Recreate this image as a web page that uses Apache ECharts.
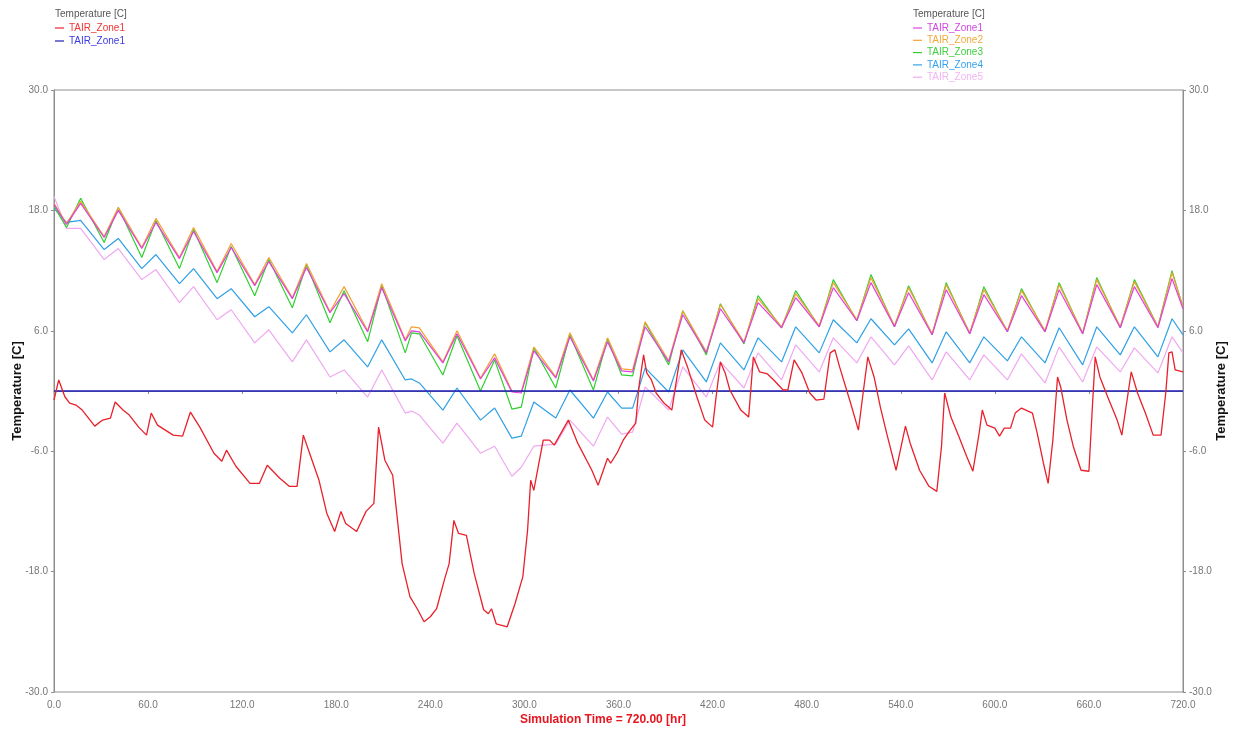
<!DOCTYPE html>
<html>
<head>
<meta charset="utf-8">
<title>Temperature [C]</title>
<script src="https://cdn.jsdelivr.net/npm/echarts@6/dist/echarts.min.js"></script>
<style>
  html, body { margin: 0; padding: 0; background: #fff; }
  #chart { width: 1238px; height: 730px; }
</style>
</head>
<body>
<div id="chart"></div>
<script>
// tick positions
const X_TICKS = [0, 60, 120, 180, 240, 300, 360, 420, 480, 540, 600, 660, 720]
const Y_TICKS = [-30, -18, -6, 6, 18, 30]

// zone temperatures (right axis), read at daily min / peak hours
const T_ZONE = [
  0, 8, 17, 32, 41, 56, 65, 80, 89, 104,
  113, 128, 137, 152, 161, 176, 185, 200, 209, 224,
  228, 233, 248, 257, 272, 281, 292, 298, 306, 320,
  329, 344, 353, 362, 369, 377, 392, 401, 416, 425,
  440, 449, 464, 473, 488, 497, 512, 521, 536, 545,
  560, 569, 584, 593, 608, 617, 632, 641, 656, 665,
  680, 689, 704, 713, 720
]
const ZONE1 = [
  18.6, 16.6, 18.7, 15.3, 18.0, 14.2, 16.8, 13.2, 15.9, 11.8,
  14.3, 10.5, 12.9, 9.2, 12.3, 7.8, 9.7, 5.9, 10.3, 5.0,
  6.0, 5.9, 2.8, 5.7, 1.2, 3.3, -0.1, -0.2, 4.0, 1.3,
  5.4, 1.0, 4.9, 2.0, 1.9, 6.4, 2.9, 7.6, 3.8, 8.2,
  4.8, 8.8, 6.3, 9.3, 6.4, 10.3, 7.0, 10.8, 6.4, 9.8,
  5.6, 10.1, 5.7, 9.6, 5.9, 9.5, 5.9, 10.1, 5.7, 10.6,
  6.3, 10.4, 6.3, 11.2, 8.2
]
const ZONE2 = [
  18.7, 16.7, 18.9, 15.4, 18.3, 14.3, 17.2, 13.3, 16.3, 11.9,
  14.7, 10.6, 13.3, 9.3, 12.7, 7.9, 10.4, 6.0, 10.7, 5.1,
  6.4, 6.3, 2.9, 6.0, 1.3, 3.7, 0.0, -0.1, 4.4, 1.4,
  5.8, 1.1, 5.3, 2.2, 2.1, 6.9, 3.0, 8.0, 3.9, 8.6,
  4.9, 9.2, 6.4, 9.7, 6.5, 10.8, 7.1, 11.3, 6.5, 10.3,
  5.7, 10.6, 5.8, 10.1, 6.0, 10.0, 6.0, 10.6, 5.8, 11.1,
  6.4, 10.9, 6.4, 11.8, 8.4
]
const ZONE3 = [
  18.4, 16.3, 19.2, 14.8, 18.3, 13.3, 17.0, 12.2, 16.1, 10.8,
  14.4, 9.5, 13.1, 8.3, 12.6, 6.8, 10.0, 4.9, 10.5, 3.8,
  5.8, 5.7, 1.6, 5.5, 0.0, 3.1, -1.8, -1.6, 4.3, 0.3,
  5.6, 0.1, 5.2, 1.6, 1.5, 6.8, 2.6, 8.0, 3.6, 8.7,
  4.7, 9.5, 6.3, 10.0, 6.4, 11.1, 7.0, 11.6, 6.4, 10.5,
  5.6, 10.8, 5.7, 10.4, 5.9, 10.2, 5.9, 10.8, 5.7, 11.3,
  6.3, 11.1, 6.4, 12.0, 8.3
]
const ZONE4 = [
  18.2, 16.8, 17.0, 14.1, 15.2, 12.2, 13.6, 10.7, 12.2, 9.2,
  10.2, 7.4, 8.4, 5.8, 7.6, 3.9, 5.1, 2.4, 5.1, 1.1,
  1.2, 0.8, -1.9, 0.3, -2.9, -1.7, -4.7, -4.5, -1.1, -2.7,
  0.1, -2.7, -0.1, -1.7, -1.7, 2.3, -0.1, 4.1, 0.9, 4.8,
  2.1, 5.3, 2.9, 6.4, 3.8, 7.1, 4.8, 7.2, 4.6, 6.2,
  2.8, 5.9, 2.8, 5.4, 3.0, 5.4, 2.8, 6.3, 2.6, 6.4,
  3.6, 6.4, 3.4, 7.2, 5.6
]
const ZONE5 = [
  19.4, 16.2, 16.2, 13.1, 14.2, 11.1, 12.1, 8.8, 10.4, 7.1,
  8.1, 4.8, 6.1, 2.9, 5.1, 1.4, 2.1, -0.6, 2.1, -2.2,
  -2.0, -2.4, -5.2, -3.2, -6.2, -5.5, -8.5, -7.6, -5.5, -5.3,
  -2.9, -5.5, -2.6, -4.3, -4.1, 0.4, -1.9, 2.4, -0.6, 2.9,
  0.3, 3.8, 1.1, 4.6, 1.9, 5.3, 2.8, 5.4, 2.6, 4.5,
  1.1, 3.9, 1.1, 3.6, 1.1, 3.7, 0.8, 4.4, 0.9, 4.4,
  1.9, 4.3, 1.8, 5.4, 3.8
]

// left axis: red trace and the flat blue line
const T_RED = [
  0, 3, 7, 10, 14, 18, 26, 31, 36, 39,
  44, 48, 54, 59, 62, 66, 76, 82, 87, 93,
  102, 107, 110, 116, 125, 131, 136, 144, 150, 155,
  159, 163, 169, 174, 179, 183, 186, 193, 199, 204,
  207, 211, 216, 222, 227, 232, 236, 240, 244, 249,
  252, 255, 258, 263, 268, 274, 277, 279, 282, 289,
  294, 299, 302, 304, 306, 308, 312, 316, 319, 328,
  334, 343, 347, 351, 353, 355, 359, 363, 367, 371,
  373, 376, 378, 381, 384, 389, 394, 397, 400, 404,
  410, 415, 420, 422, 425, 428, 431, 438, 443, 446,
  450, 455, 459, 465, 468, 472, 477, 482, 486, 491,
  495, 498, 501, 508, 513, 516, 519, 523, 527, 531,
  537, 543, 546, 552, 558, 563, 566, 568, 572, 577,
  582, 586, 590, 592, 595, 600, 603, 606, 610, 613,
  617, 624, 627, 631, 634, 637, 640, 642, 646, 650,
  655, 660, 662, 664, 667, 672, 678, 681, 685, 687,
  691, 696, 701, 706, 709, 711, 713, 715, 720
]
const RED = [
  -0.9, 1.1, -0.6, -1.2, -1.4, -1.9, -3.5, -2.9, -2.7, -1.1,
  -1.9, -2.4, -3.6, -4.4, -2.2, -3.4, -4.4, -4.5, -2.1, -3.6,
  -6.2, -7.0, -5.9, -7.5, -9.2, -9.2, -7.4, -8.7, -9.5, -9.5,
  -4.4, -6.2, -8.9, -12.2, -14.0, -12.0, -13.2, -14.0, -12.0, -11.2,
  -3.6, -6.9, -8.4, -17.2, -20.5, -21.8, -23.0, -22.5, -21.7, -18.8,
  -17.2, -12.9, -14.2, -14.4, -18.2, -21.8, -22.2, -21.7, -23.2, -23.5,
  -21.2, -18.5, -13.9, -8.9, -9.9, -8.2, -4.9, -4.9, -5.4, -2.9,
  -5.2, -7.9, -9.4, -7.6, -6.7, -7.2, -6.2, -4.9, -4.0, -3.2,
  0.4, 3.6, 1.8, 1.1, -0.2, -1.2, -1.9, 1.1, 4.1, 2.4,
  -0.6, -2.9, -3.6, -0.9, 2.9, 1.8, 0.1, -1.9, -2.6, 3.4,
  1.9, 1.7, 1.1, 0.1, 0.1, 3.1, 1.8, -0.2, -0.9, -0.8,
  3.8, 4.1, 2.4, -1.2, -3.9, -0.2, 3.4, 1.4, -1.6, -4.2,
  -7.9, -3.5, -5.2, -7.9, -9.5, -10.0, -5.5, -0.2, -2.6, -4.5,
  -6.5, -8.0, -4.2, -1.9, -3.4, -3.7, -4.5, -3.7, -3.7, -2.2,
  -1.7, -2.2, -4.2, -7.2, -9.2, -4.9, 1.4, 0.4, -2.9, -5.5,
  -7.9, -8.0, -2.2, 3.4, 1.4, -0.6, -2.9, -4.4, -0.2, 1.9,
  -0.2, -2.2, -4.4, -4.4, -0.2, 3.8, 3.9, 2.1, 1.9
]
const T_BLUE = [0, 720]
const BLUE = [0, 0]

// legend ids -> shown text (the same label appears three times)
const LEGEND_TEXT = {
  red: 'TAIR_Zone1', blue: 'TAIR_Zone1',
  z1: 'TAIR_Zone1', z2: 'TAIR_Zone2', z3: 'TAIR_Zone3', z4: 'TAIR_Zone4', z5: 'TAIR_Zone5'
}

const FONT = 'Arial, "Liberation Sans", sans-serif'
const AXIS_GREY = '#8f8f8f'
const LABEL_GREY = '#777'
// short flat dash used as legend marker
const DASH = 'path://M0,0 L10,0 L10,1.3 L0,1.3 Z'

function pairs(ts, vs) {
  return ts.map((t, i) => [t, vs[i]])
}

function makeLine(name, yAxisIndex, ts, vs, color, width) {
  return {
    name,
    type: 'line',
    yAxisIndex,
    data: pairs(ts, vs),
    symbol: 'none',
    showSymbol: false,
    silent: true,
    animation: false,
    lineStyle: { color, width },
    itemStyle: { color }
  }
}

function yAxisOf(position, gap) {
  return {
    type: 'value',
    position,
    min: -30,
    max: 30,
    axisLine: { show: true, lineStyle: { color: AXIS_GREY } },
    axisTick: { show: true, length: 3, customValues: Y_TICKS, lineStyle: { color: AXIS_GREY } },
    axisLabel: {
      customValues: Y_TICKS,
      formatter: (v) => v.toFixed(1),
      color: LABEL_GREY,
      fontSize: 10,
      fontFamily: FONT,
      margin: 6
    },
    splitLine: { show: false },
    name: 'Temperature [C]',
    nameLocation: 'middle',
    nameRotate: 90,
    nameGap: gap,
    nameMoveOverlap: false,
    nameTextStyle: { color: '#111', fontWeight: 'bold', fontSize: 13, fontFamily: FONT }
  }
}

const legendText = { fontSize: 10, fontFamily: FONT }

const chart = echarts.init(document.getElementById('chart'))
chart.setOption({
  animation: false,
  backgroundColor: '#fff',
  title: [
    { text: 'Temperature [C]', left: 55, top: 9, padding: 0,
      textStyle: { fontSize: 10, fontWeight: 'normal', color: '#555', fontFamily: FONT } },
    { text: 'Temperature [C]', left: 913, top: 9, padding: 0,
      textStyle: { fontSize: 10, fontWeight: 'normal', color: '#555', fontFamily: FONT } }
  ],
  legend: [
    {
      left: 55, top: 23, padding: 0, orient: 'vertical', icon: DASH,
      itemWidth: 9, itemHeight: 10, itemGap: 3, selectedMode: false,
      formatter: (n) => LEGEND_TEXT[n],
      textStyle: legendText,
      data: [
        { name: 'red', textStyle: { color: '#f03535' } },
        { name: 'blue', textStyle: { color: '#3a3ae8' } }
      ]
    },
    {
      left: 913, top: 23, padding: 0, orient: 'vertical', icon: DASH,
      itemWidth: 9, itemHeight: 10, itemGap: 2.3, selectedMode: false,
      formatter: (n) => LEGEND_TEXT[n],
      textStyle: legendText,
      data: [
        { name: 'z1', textStyle: { color: '#d048e0' } },
        { name: 'z2', textStyle: { color: '#f0aa3a' } },
        { name: 'z3', textStyle: { color: '#3fcf3f' } },
        { name: 'z4', textStyle: { color: '#35a2ee' } },
        { name: 'z5', textStyle: { color: '#f2b4f2' } }
      ]
    }
  ],
  grid: {
    left: 54, right: 55, top: 90, bottom: 38,
    show: true, borderColor: AXIS_GREY, borderWidth: 1, backgroundColor: '#fff',
    outerBoundsMode: 'none'
  },
  xAxis: {
    type: 'value',
    min: 0,
    max: 720,
    axisLine: { show: true, lineStyle: { color: AXIS_GREY } },
    axisTick: { show: true, length: 3, customValues: X_TICKS, lineStyle: { color: AXIS_GREY } },
    axisLabel: {
      customValues: X_TICKS,
      formatter: (v) => v.toFixed(1),
      color: LABEL_GREY,
      fontSize: 10,
      fontFamily: FONT,
      margin: 8
    },
    splitLine: { show: false },
    name: 'Simulation Time = 720.00 [hr]',
    nameLocation: 'middle',
    nameGap: 22,
    nameMoveOverlap: false,
    nameTextStyle: { color: '#e8141e', fontWeight: 'bold', fontSize: 12, fontFamily: FONT, padding: [0, 31, 0, 0] }
  },
  yAxis: [yAxisOf('left', 30), yAxisOf('right', 32)],
  series: [
    makeLine('z5', 1, T_ZONE, ZONE5, '#f0a8f0', 1.2),
    makeLine('z4', 1, T_ZONE, ZONE4, '#2fa0e6', 1.2),
    makeLine('z3', 1, T_ZONE, ZONE3, '#30d030', 1.2),
    makeLine('z2', 1, T_ZONE, ZONE2, '#f5a030', 1.2),
    makeLine('z1', 1, T_ZONE, ZONE1, '#e040e0', 1.2),
    makeLine('blue', 0, T_BLUE, BLUE, '#1a1ab4', 1.5),
    makeLine('red', 0, T_RED, RED, '#e8202a', 1.3)
  ]
})
</script>
</body>
</html>
